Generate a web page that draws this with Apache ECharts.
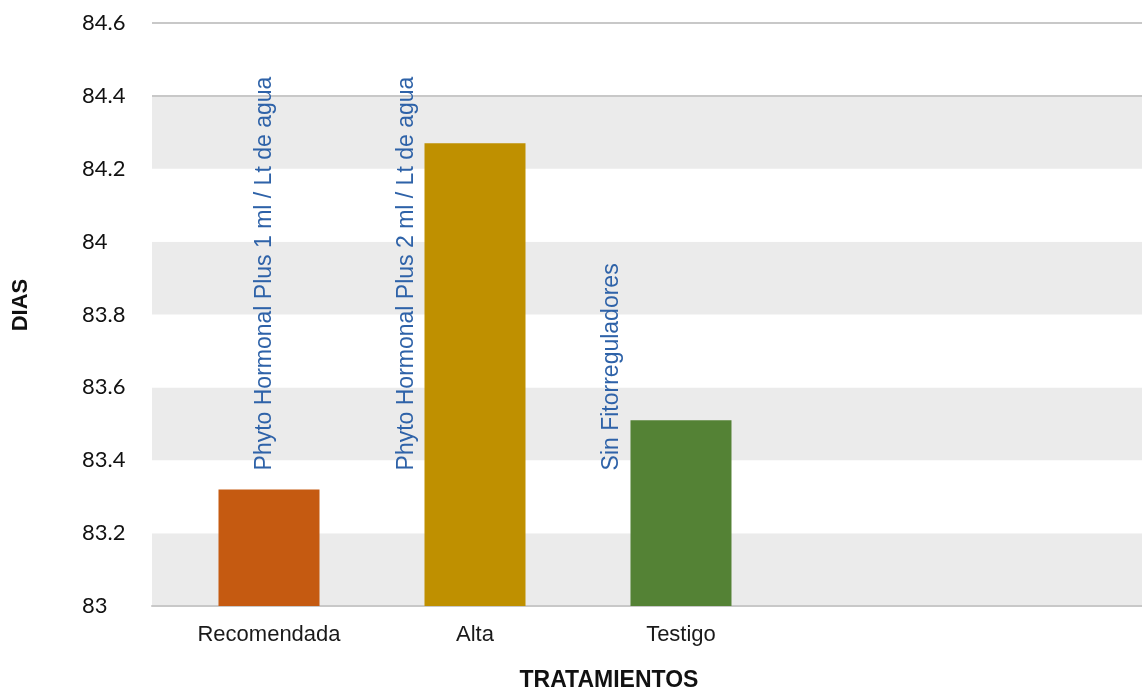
<!DOCTYPE html>
<html>
<head>
<meta charset="utf-8">
<script src="https://cdn.jsdelivr.net/npm/echarts@6/dist/echarts.min.js"></script>
<style>
html,body{margin:0;padding:0;background:#fff;}
#chart{width:1142px;height:689px;}
</style>
</head>
<body>
<div id="chart"></div>
<script>
// ---- data ----
var categories = ['Recomendada', 'Alta', 'Testigo'];
var categoryIndex = [0, 1, 2];
var diasValues = [83.32, 84.27, 83.51];
var barColors = ['#c55a11', '#bf9000', '#548235'];
var annotationTexts = ['Phyto Hormonal Plus 1 ml / Lt de agua', 'Phyto Hormonal Plus 2 ml / Lt de agua', 'Sin Fitorreguladores'];
var annotationX = [-0.02, 0.67, 1.665];
var annotationY = [83.372, 83.372, 83.372];
var yTicks = [83, 83.2, 83.4, 83.6, 83.8, 84, 84.2, 84.4, 84.6];
var topLines = [84.6, 84.4];

var chart = echarts.init(document.getElementById('chart'));

var barData = categoryIndex.map(function (x, i) {
  return { value: [x, diasValues[i]], itemStyle: { color: barColors[i] } };
});
var annData = annotationX.map(function (x, i) {
  return { value: [x, annotationY[i]], name: annotationTexts[i] };
});

var option = {
  backgroundColor: '#ffffff',
  animation: false,
  grid: { left: 152, right: 0, top: 23, bottom: 83, containLabel: false, outerBoundsMode: 'none' },
  xAxis: {
    type: 'value',
    min: -0.568,
    max: 4.238,
    name: 'TRATAMIENTOS',
    nameLocation: 'middle',
    nameGap: 63,
    nameTextStyle: { fontFamily: 'Liberation Sans, Arial', fontWeight: 'bold', fontSize: 23, color: '#111', padding: [0, 76, 0, 0] },
    axisLine: { show: true, lineStyle: { color: '#c8c8c8', width: 2 } },
    axisTick: { show: false },
    splitLine: { show: false },
    axisLabel: {
      customValues: categoryIndex,
      margin: 18,
      fontFamily: 'Liberation Sans, Arial',
      fontSize: 22,
      color: '#1a1a1a',
      formatter: function (v) { return categories[Math.round(v)] || ''; }
    }
  },
  yAxis: {
    type: 'value',
    min: yTicks[0],
    max: yTicks[yTicks.length - 1],
    interval: 0.2,
    name: 'DIAS',
    nameLocation: 'middle',
    nameGap: 120,
    nameRotate: 90,
    nameTextStyle: { fontFamily: 'Liberation Sans, Arial', fontWeight: 'bold', fontSize: 22, color: '#111', padding: [0, 0, 0, 19] },
    axisLine: { show: false },
    axisTick: { show: false },
    splitLine: { show: false },
    splitArea: { show: true, areaStyle: { color: ['#ebebeb', '#ffffff'] } },
    axisLabel: {
      align: 'left',
      margin: 70,
      fontFamily: 'Lato, Carlito, sans-serif',
      fontSize: 22,
      color: '#111',
      formatter: function (v) { return String(Math.round(v * 10) / 10); }
    }
  },
  series: [
    {
      type: 'bar',
      barWidth: 101,
      data: barData,
      markLine: {
        silent: true,
        symbol: 'none',
        label: { show: false },
        lineStyle: { color: '#c8c8c8', width: 2, type: 'solid' },
        data: topLines.map(function (v) { return { yAxis: v }; })
      }
    },
    {
      type: 'scatter',
      symbolSize: 1,
      itemStyle: { color: 'rgba(0,0,0,0)' },
      data: annData,
      z: 5,
      label: {
        show: true,
        position: 'inside',
        rotate: 90,
        align: 'left',
        verticalAlign: 'middle',
        fontFamily: 'Liberation Sans, Arial',
        fontSize: 23,
        color: '#2e62a8',
        opacity: 1,
        textBorderWidth: 0,
        formatter: function (p) { return p.name; }
      }
    }
  ]
};
chart.setOption(option);
</script>
</body>
</html>
